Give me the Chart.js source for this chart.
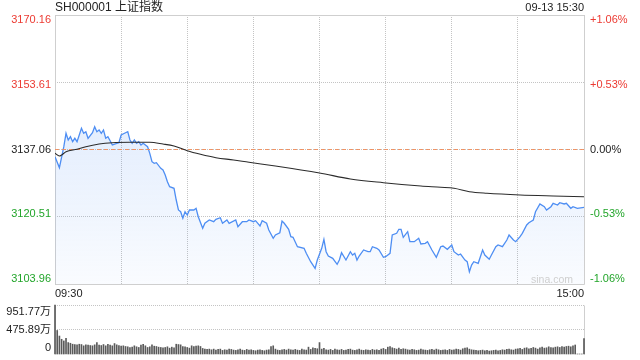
<!DOCTYPE html>
<html><head><meta charset="utf-8">
<script src="https://cdn.jsdelivr.net/npm/chart.js@4.4.0/dist/chart.umd.min.js"></script>
<style>
html,body{margin:0;padding:0;background:#fff;width:640px;height:360px;overflow:hidden;}
#wrap{position:relative;width:640px;height:360px;font-family:"Liberation Sans",Arial,"Noto Sans CJK SC",sans-serif;}
canvas{position:absolute;left:0;}
#c1{top:0}
#c2{top:300px}
.t{position:absolute;white-space:nowrap;line-height:1;}
</style></head><body>
<div id="wrap">
<canvas id="c1" width="640" height="300"></canvas>
<canvas id="c2" width="640" height="60"></canvas>
<div class="t" style="left:55px;top:1px;font-size:12px;color:#222">SH000001 上证指数</div>
<div class="t" style="right:56px;top:2px;font-size:11px;color:#222">09-13 15:30</div>
<div class="t" style="right:67px;top:274px;font-size:10.5px;color:#cfcfcf">sina.com</div>
</div>
<script>
// ---- data ----
const prevClose = 3137.06;
const priceTicks = [3103.96, 3120.51, 3137.06, 3153.61, 3170.16];
const timeTicks = [0, 30, 60, 90, 120, 150, 180, 210, 240];
const timeLabels = ['09:30', '15:00'];

const priceMinutes = [0,2,4,5,6,7,8,9,10,12,13,14,15,17,18,19,20,21,22,23,24,25,26,28,29,30,32,33,34,35,36,37,38,39,40,42,43,44,45,46,48,49,50,51,52,54,55,56,57,58,59,60,61,63,64,65,67,68,70,72,73,75,76,78,79,82,83,85,87,88,90,91,93,94,96,97,99,100,102,103,104,106,107,108,110,113,114,116,118,119,121,122,123,124,126,128,129,130,132,134,135,136,137,138,140,142,143,144,146,147,149,150,152,153,155,156,157,158,160,161,163,165,166,168,169,171,173,175,176,178,180,181,183,184,186,187,188,189,190,192,194,195,197,198,200,201,203,205,206,208,209,211,212,214,215,217,218,220,222,223,225,226,228,229,231,232,234,235,237,240];
const prices = [3135.29,3132.58,3137.75,3141.05,3139.40,3140.21,3138.98,3139.82,3138.98,3142.28,3141.05,3141.44,3139.82,3141.19,3142.67,3141.44,3141.86,3141.05,3141.86,3139.82,3140.21,3139.23,3138.17,3138.59,3138.73,3140.63,3141.19,3141.44,3139.40,3138.59,3139.40,3138.59,3138.98,3138.17,3138.59,3137.75,3136.12,3134.06,3133.66,3133.81,3132.43,3132.01,3130.78,3129.13,3127.90,3127.51,3124.63,3122.17,3121.75,3120.13,3121.75,3120.94,3122.17,3122.17,3122.59,3120.52,3117.67,3118.90,3119.71,3119.29,3119.88,3120.27,3118.90,3119.71,3118.90,3119.71,3118.06,3119.29,3119.29,3119.71,3119.29,3119.54,3118.23,3119.54,3118.90,3117.25,3115.20,3116.02,3116.58,3119.46,3118.90,3117.42,3115.60,3115.45,3113.14,3112.74,3111.51,3109.45,3107.82,3109.86,3112.74,3114.96,3111.91,3110.85,3110.28,3108.81,3109.86,3111.66,3109.86,3111.91,3111.09,3111.51,3109.86,3110.85,3112.33,3111.91,3111.91,3113.14,3112.74,3112.33,3110.53,3110.68,3111.51,3116.02,3116.43,3117.42,3117.42,3115.45,3116.83,3114.37,3114.37,3115.20,3113.80,3113.97,3114.37,3112.33,3110.53,3113.14,3113.31,3112.50,3113.56,3111.91,3111.09,3111.34,3109.86,3109.45,3106.98,3108.63,3109.45,3109.05,3112.33,3111.09,3110.04,3111.09,3113.14,3113.56,3113.14,3114.79,3116.02,3114.79,3114.37,3115.60,3116.43,3118.48,3119.04,3119.71,3121.75,3123.65,3122.98,3122.17,3122.98,3123.82,3123.40,3123.97,3123.65,3123.82,3122.59,3122.98,3122.59,3122.83];

const avgMinutes = [0,2,3,5,10,14,20,26,34,43,49,54,60,66,73,81,88,100,120,134,149,166,175,181,188,196,211,226,240];
const avgPrices = [3136.12,3135.46,3135.71,3136.52,3137.11,3137.75,3138.41,3138.73,3138.83,3138.83,3138.41,3137.92,3136.76,3135.88,3135.04,3134.48,3133.91,3133.00,3131.28,3129.80,3128.89,3128.08,3127.76,3127.51,3126.67,3126.28,3125.86,3125.62,3125.44];

const volTicks = [0, 475.89, 951.77];
// volume per minute (万), index = minutes from 09:30
const volumes = [
951.77,457,349,286,254,305,222,209,190,184,
178,190,184,159,178,171,165,159,178,222,
171,165,184,159,190,171,159,203,178,165,
152,159,146,140,127,133,159,140,127,171,
190,159,127,140,178,152,146,133,127,121,
127,140,114,133,121,190,184,178,146,140,
127,114,159,146,152,159,146,108,95,89,
95,82,95,76,89,95,70,82,76,95,
89,76,70,82,95,76,70,89,76,82,
70,63,76,82,70,63,76,82,146,159,
95,76,70,82,89,76,95,82,76,89,
76,70,95,82,76,133,89,121,108,102,
222,95,108,82,76,89,70,95,82,76,
89,70,76,89,95,76,70,82,95,76,
70,82,76,70,89,76,82,70,95,108,
89,133,146,121,108,95,114,89,102,95,
82,76,89,82,70,76,95,82,76,70,
82,89,76,95,82,70,76,82,70,89,
76,82,95,89,76,102,114,121,95,82,
76,70,63,70,76,63,70,57,63,70,
76,63,70,82,76,89,95,82,76,95,
102,108,89,114,121,102,108,127,114,95,
121,133,114,121,140,127,121,133,140,127,
146,133,146,152,140,159,175,0,0,0,
300];

// ---- style ----
const FONT = '"Liberation Sans", Arial, "Noto Sans CJK SC", sans-serif';
const GRID = '#c4c4c4';
const BOX = '#cfcfcf';
const RED = '#ec3a32';
const GREEN = '#22a52a';
const DARK = '#222';
Chart.defaults.font.family = FONT;
Chart.defaults.color = DARK;

function colorFor(v){
  if (Math.abs(v - prevClose) < 1e-6) return DARK;
  return v > prevClose ? RED : GREEN;
}
function pct(v){
  const p = (v - prevClose) / prevClose * 100;
  const s = Math.abs(p).toFixed(2);
  if (s === '0.00') return '0.00%';
  return (p > 0 ? '+' : '-') + s + '%';
}
const boxPlugin = {
  id: 'box',
  beforeDatasetsDraw(chart, args, opts){
    const {ctx, chartArea: a} = chart;
    ctx.save();
    ctx.strokeStyle = BOX; ctx.lineWidth = 1; ctx.setLineDash([]);
    const l = Math.round(a.left) + 0.5, r = Math.round(a.right) + 0.5;
    const t = Math.round(a.top) + 0.5, b = Math.round(a.bottom) + 0.5;
    ctx.beginPath();
    ctx.moveTo(l, t); ctx.lineTo(l, b);
    ctx.moveTo(r, t); ctx.lineTo(r, b);
    if (opts.full) { ctx.moveTo(l, t); ctx.lineTo(r, t); ctx.moveTo(l, b); ctx.lineTo(r, b); }
    ctx.stroke();
    ctx.restore();
  }
};
function fixW(w){ return s => { s.width = w; s.paddingTop = 0; s.paddingBottom = 0; }; }

const plotH = 269, inset = 5;
const span = priceTicks[4] - priceTicks[0];
const dLab = inset * span / (plotH - 2 * inset);

const tickList = s => { s.ticks = priceTicks.map(v => ({value: v})); };

new Chart(document.getElementById('c1'), {
  type: 'line',
  data: {
    datasets: [
      { label: 'avg', data: avgMinutes.map((m, i) => ({x: m, y: avgPrices[i]})),
        borderColor: '#2b2b2b', borderWidth: 1.1, pointRadius: 0, fill: false,
        cubicInterpolationMode: 'monotone', xAxisID: 'x', yAxisID: 'y' },
      { label: 'prev', data: [{x: 0, y: prevClose}, {x: 240, y: prevClose}],
        borderColor: 'rgba(240,140,90,0.9)', borderWidth: 1, borderDash: [4, 3],
        pointRadius: 0, fill: false, xAxisID: 'x', yAxisID: 'y' },
      { label: 'price', data: priceMinutes.map((m, i) => ({x: m, y: prices[i]})),
        borderColor: '#4e8ef3', borderWidth: 1.3, pointRadius: 0, tension: 0,
        fill: 'start',
        backgroundColor: c => {
          const a = c.chart.chartArea;
          if (!a) return 'rgba(78,142,243,0.1)';
          const g = c.chart.ctx.createLinearGradient(0, a.top, 0, a.bottom);
          g.addColorStop(0, 'rgba(78,142,243,0.24)');
          g.addColorStop(1, 'rgba(78,142,243,0.03)');
          return g;
        },
        xAxisID: 'x', yAxisID: 'y' }
    ]
  },
  options: {
    responsive: false, animation: false, devicePixelRatio: 1, events: [],
    layout: { padding: { top: 15, left: 0, right: 0, bottom: 0 } },
    plugins: { legend: {display: false}, tooltip: {enabled: false}, box: {full: true} },
    scales: {
      x: { type: 'linear', min: 0, max: 240, position: 'bottom', offset: false,
        afterBuildTicks: s => { s.ticks = timeTicks.map(v => ({value: v})); },
        ticks: { autoSkip: false, maxRotation: 0, align: 'inner', padding: 3,
          font: {size: 11}, color: DARK,
          callback: v => v === 0 ? timeLabels[0] : (v === 240 ? timeLabels[1] : '') },
        grid: { color: GRID, drawTicks: false }, border: { display: false, dash: [1, 1] },
        afterFit: s => { s.height = 16; s.paddingLeft = 0; s.paddingRight = 0; } },
      y: { type: 'linear', position: 'left', min: priceTicks[0], max: priceTicks[4],
        afterBuildTicks: tickList, ticks: { display: false },
        grid: { color: GRID, drawTicks: false }, border: { display: false, dash: [1, 1] },
        afterFit: fixW(0) },
      yl: { type: 'linear', position: 'left', min: priceTicks[0] - dLab, max: priceTicks[4] + dLab,
        afterBuildTicks: tickList,
        ticks: { padding: 4, font: {size: 11}, color: c => colorFor(c.tick.value),
          callback: v => v.toFixed(2) },
        grid: { display: false, drawTicks: false }, border: { display: false },
        afterFit: fixW(55) },
      yr: { type: 'linear', position: 'right', min: priceTicks[0] - dLab, max: priceTicks[4] + dLab,
        afterBuildTicks: tickList,
        ticks: { padding: 6, font: {size: 11}, color: c => colorFor(c.tick.value),
          callback: v => pct(v) },
        grid: { display: false, drawTicks: false }, border: { display: false },
        afterFit: fixW(56) }
    }
  },
  plugins: [boxPlugin]
});

const vH = 49, vInset = 6.5;
const dV = vInset * volTicks[2] / (vH - 2 * vInset);
new Chart(document.getElementById('c2'), {
  type: 'bar',
  data: {
    datasets: [{ data: volumes.map((v, i) => ({x: i, y: v})), backgroundColor: '#5a5a5a',
      barThickness: 1, borderWidth: 0, clip: false, xAxisID: 'x', yAxisID: 'y' }]
  },
  options: {
    responsive: false, animation: false, devicePixelRatio: 1, events: [],
    layout: { padding: { top: 5, bottom: 6, left: 0, right: 56 } },
    plugins: { legend: {display: false}, tooltip: {enabled: false}, box: {full: false} },
    scales: {
      x: { type: 'linear', min: 0, max: 240, display: false, offset: false,
        grid: { offset: false } },
      y: { type: 'linear', position: 'left', min: 0, max: volTicks[2],
        afterBuildTicks: s => { s.ticks = volTicks.slice(1).map(v => ({value: v})); },
        ticks: { display: false }, grid: { color: GRID, drawTicks: false },
        border: { display: false, dash: [1, 1] }, afterFit: fixW(0) },
      yl: { type: 'linear', position: 'left', min: -dV, max: volTicks[2] + dV,
        afterBuildTicks: s => { s.ticks = volTicks.map(v => ({value: v})); },
        ticks: { padding: 4, font: {size: 11}, color: DARK,
          callback: v => v === 0 ? '0' : v.toFixed(2) + '万' },
        grid: { display: false, drawTicks: false }, border: { display: false },
        afterFit: fixW(55) }
    }
  },
  plugins: [boxPlugin]
});
</script>
</body></html>
